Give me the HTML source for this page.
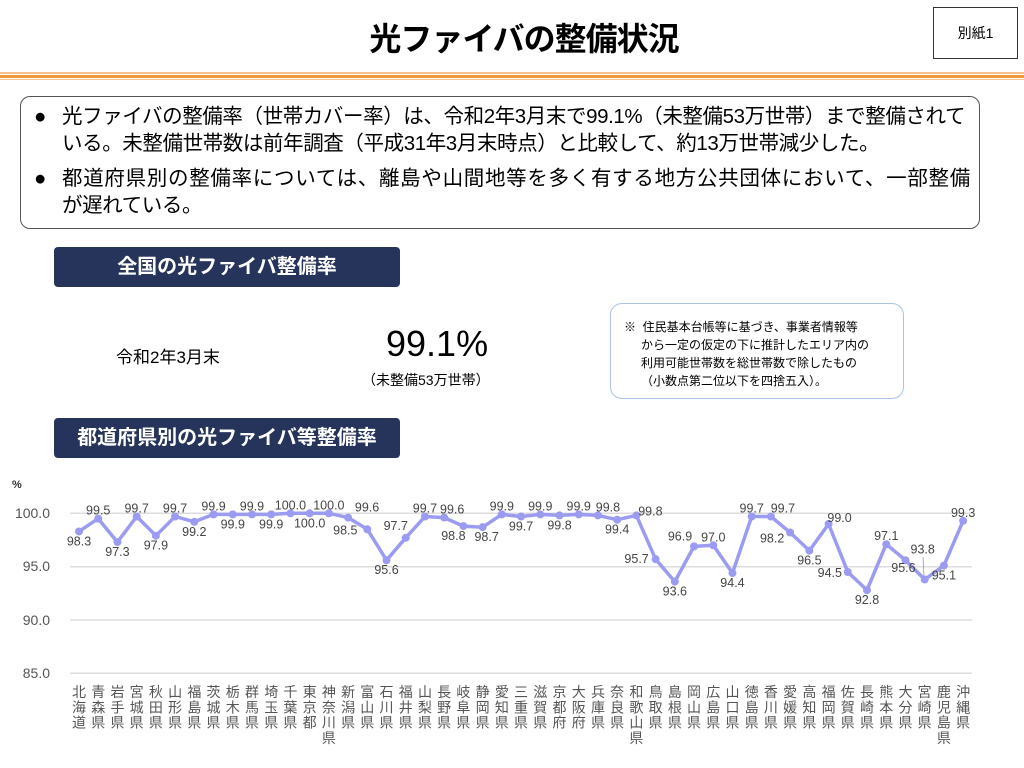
<!DOCTYPE html>
<html><head><meta charset="utf-8">
<style>
body{margin:0;width:1024px;height:768px;background:#fff;position:relative;overflow:hidden;font-family:"Liberation Sans","Noto Sans CJK JP",sans-serif;color:#000}
.a{position:absolute}
.navy{background:#26335a;color:#fff;font-weight:bold;font-size:20px;text-align:center;border-radius:4px}
</style></head><body>
<div class="a" style="left:0;top:14px;width:1048px;text-align:center;font-size:32px;font-weight:bold;letter-spacing:-1px">光ファイバの整備状況</div>
<div class="a" style="left:933px;top:7px;width:83px;height:50px;border:1.5px solid #333;font-size:14px;line-height:50px;text-align:center">別紙1</div>
<div class="a" style="left:0;top:72px;width:1024px;height:2px;background:#f6c48a"></div>
<div class="a" style="left:0;top:75px;width:1024px;height:3px;background:#ee9a3a"></div>
<div class="a" style="left:0;top:79px;width:1024px;height:1px;background:#f6c48a"></div>
<div class="a" style="left:20px;top:96px;width:958px;height:131px;border:1.5px solid #555;border-radius:10px"></div>
<div class="a" style="left:34px;top:103px;font-size:20.5px;line-height:27px;letter-spacing:-0.4px;width:960px;white-space:nowrap">
<div><span style="display:inline-block;width:28px">●</span>光ファイバの整備率（世帯カバー率）は、令和2年3月末で99.1%（未整備53万世帯）まで整備されて</div>
<div style="padding-left:28px">いる。未整備世帯数は前年調査（平成31年3月末時点）と比較して、約13万世帯減少した。</div>
<div style="margin-top:8px;letter-spacing:0.7px"><span style="display:inline-block;width:28px">●</span>都道府県別の整備率については、離島や山間地等を多く有する地方公共団体において、一部整備</div>
<div style="padding-left:28px">が遅れている。</div>
</div>
<div class="a navy" style="left:54px;top:247px;width:346px;height:40px;line-height:40px">全国の光ファイバ整備率</div>
<div class="a" style="left:116px;top:343px;font-size:17px">令和2年3月末</div>
<div class="a" style="left:386px;top:323px;font-size:36px">99.1%</div>
<div class="a" style="left:362px;top:370px;font-size:14px">（未整備53万世帯）</div>
<div class="a" style="left:610px;top:303px;width:292px;height:94px;border:1px solid #a9c3e6;border-radius:12px"></div>
<div class="a" style="left:624px;top:318px;font-size:12px;line-height:18px">※&nbsp;&nbsp;住民基本台帳等に基づき、事業者情報等<br><span style="padding-left:17px">から一定の仮定の下に推計したエリア内の</span><br><span style="padding-left:17px">利用可能世帯数を総世帯数で除したもの</span><br><span style="padding-left:17px">（小数点第二位以下を四捨五入）。</span></div>
<div class="a navy" style="left:54px;top:418px;width:346px;height:40px;line-height:40px">都道府県別の光ファイバ等整備率</div>
<svg class="a" style="left:0;top:0" width="1024" height="768" id="c">
<g stroke="#ddd" stroke-width="1.5">
<line x1="70" x2="972" y1="513.3" y2="513.3"/><line x1="70" x2="972" y1="566.7" y2="566.7"/><line x1="70" x2="972" y1="620" y2="620"/><line x1="70" x2="972" y1="673.3" y2="673.3"/></g>
<g font-size="14" fill="#555" text-anchor="end" font-family="Liberation Sans, sans-serif">
<text x="50" y="518">100.0</text><text x="50" y="571">95.0</text><text x="50" y="625">90.0</text><text x="50" y="678">85.0</text></g>
<text x="12" y="488" font-size="11" fill="#333" font-weight="bold">%</text>
<line x1="923" y1="557" x2="924" y2="577" stroke="#999" stroke-width="0.8"/>
</svg>
<script>
var v=[98.3,99.5,97.3,99.7,97.9,99.7,99.2,99.9,99.9,99.9,99.9,100.0,100.0,100.0,99.6,98.5,95.6,97.7,99.7,99.6,98.8,98.7,99.9,99.7,99.9,99.8,99.9,99.8,99.4,99.8,95.7,93.6,96.9,97.0,94.4,99.7,99.7,98.2,96.5,99.0,94.5,92.8,97.1,95.6,93.8,95.1,99.3];
var n=["北海道","青森県","岩手県","宮城県","秋田県","山形県","福島県","茨城県","栃木県","群馬県","埼玉県","千葉県","東京都","神奈川県","新潟県","富山県","石川県","福井県","山梨県","長野県","岐阜県","静岡県","愛知県","三重県","滋賀県","京都府","大阪府","兵庫県","奈良県","和歌山県","鳥取県","島根県","岡山県","広島県","山口県","徳島県","香川県","愛媛県","高知県","福岡県","佐賀県","長崎県","熊本県","大分県","宮崎県","鹿児島県","沖縄県"];
var A=[0,-4],B=[0,14];
var o=[B,A,B,A,B,A,B,A,B,A,B,A,B,A,[19,-6],[-22,5],B,[-10,-8],A,[8,-4],[-10,14],[4,14],A,B,A,B,A,[10,-4],B,[14,0],[-19,4],B,[-14,-6],A,B,A,[12,-4],[-18,10],B,[11,-2],[-18,5],B,A,[-2,12],[-2,-26],B,A];
var s='',pts=[];
for(var i=0;i<47;i++){var x=79+i*19.22,y=513.3+(100-v[i])*10.67;pts.push(x.toFixed(1)+','+y.toFixed(1));
s+='<circle cx="'+x+'" cy="'+y+'" r="4" fill="#9b9bf2"/>';
s+='<text x="'+(x+o[i][0])+'" y="'+(y+o[i][1])+'" font-size="12.5" fill="#444" text-anchor="middle" font-family="Liberation Sans, sans-serif">'+v[i].toFixed(1)+'</text>';
for(var k=0;k<n[i].length;k++)s+='<text x="'+x+'" y="'+(697+k*15.3)+'" font-size="14" fill="#555" text-anchor="middle" font-family="Noto Sans CJK JP, sans-serif">'+n[i][k]+'</text>';}
document.getElementById('c').insertAdjacentHTML('beforeend','<polyline points="'+pts.join(' ')+'" fill="none" stroke="#9b9bf2" stroke-width="3.5" stroke-linejoin="round"/>'+s);
</script>
</body></html>
